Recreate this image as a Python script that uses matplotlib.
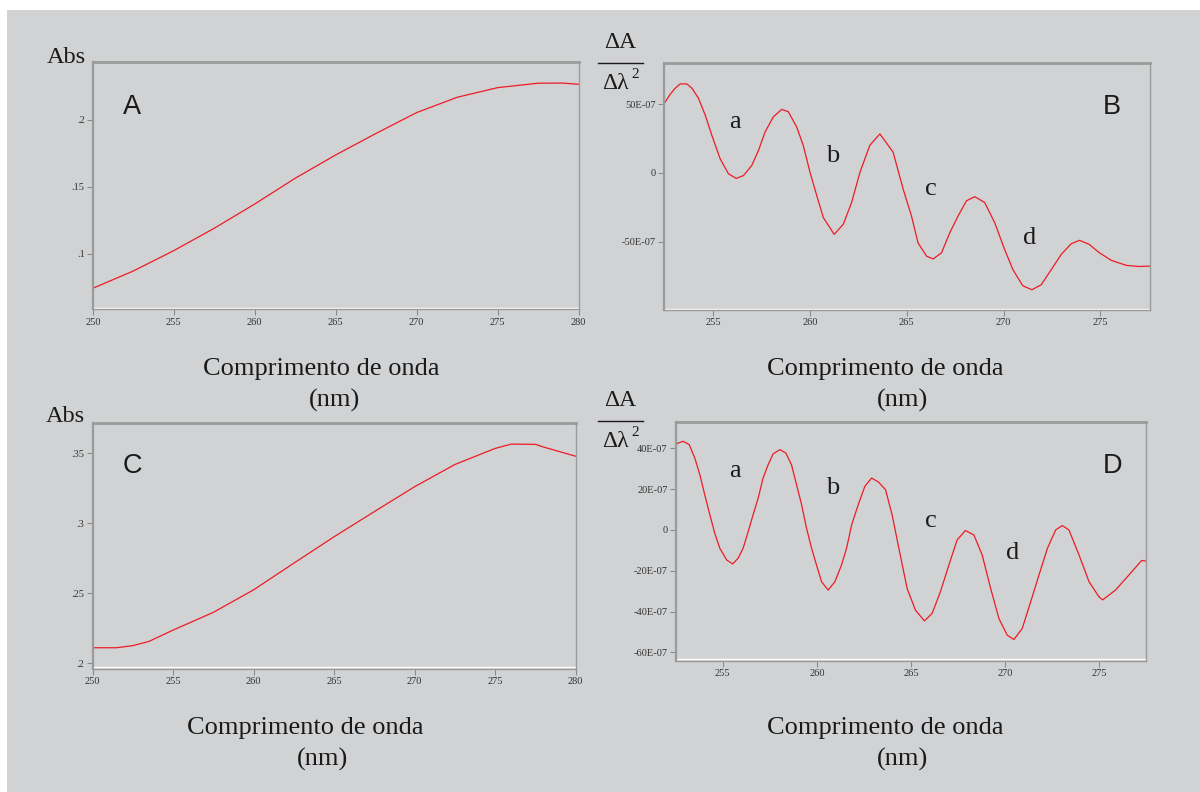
import matplotlib
matplotlib.use('Agg')
import matplotlib.pyplot as plt
from matplotlib.lines import Line2D
from matplotlib.patches import Rectangle

plt.rcParams['font.family'] = ['Liberation Serif', 'DejaVu Serif']

W, H = 1200, 792
BG = '#d1d2d4'
RED = '#ec1c24'
SPINE = '#9a9a9a'
SANS = ['Liberation Sans', 'DejaVu Sans']

# ---------------- data ----------------
wl_A = [250, 252.5, 255, 257.5, 260, 262.5, 265, 267.5, 270, 272.5, 275, 277.5, 279, 280]
abs_A = [0.0744, 0.0873, 0.1025, 0.1192, 0.1373, 0.1565, 0.1739, 0.1900, 0.2055, 0.2169,
         0.2241, 0.2274, 0.2275, 0.2266]

wl_C = [250, 251.5, 252.5, 253.5, 255, 257.5, 260, 262.5, 265, 266, 267.5, 270, 272.5, 275,
        276, 277.5, 278, 280]
abs_C = [0.211, 0.211, 0.2125, 0.2155, 0.2236, 0.2363, 0.2524, 0.2715, 0.2904, 0.2976, 0.3084,
         0.3262, 0.3421, 0.3536, 0.3567, 0.3565, 0.3546, 0.348]

wl_B = [252.48, 252.78, 253.04, 253.3, 253.64, 253.9, 254.24, 254.59, 254.93, 255.36, 255.79,
        256.19, 256.56, 256.99, 257.34, 257.68, 258.11, 258.54, 258.88, 259.31, 259.65, 260.0,
        260.35, 260.69, 261.25, 261.72, 262.15, 262.58, 263.09, 263.61, 264.29, 264.81, 265.24,
        265.58, 266.02, 266.36, 266.79, 267.22, 267.65, 268.08, 268.51, 269.02, 269.54, 270.05,
        270.48, 270.99, 271.46, 271.94, 272.46, 272.97, 273.49, 273.92, 274.43, 274.95, 275.57,
        276.34, 277.0, 277.55]
d2_B = [50.5, 57.1, 61.5, 64.6, 64.6, 61.5, 54.2, 41.9, 27.3, 10.2, -0.7, -4.0, -2.0, 5.3, 16.3,
        29.7, 40.7, 46.1, 44.4, 33.4, 20.0, 0.4, -16.6, -32.5, -44.7, -37.3, -21.5, 0.4, 20.0,
        28.3, 15.1, -11.7, -31.3, -50.8, -60.5, -62.5, -58.1, -43.5, -31.3, -20.3, -17.3, -21.5,
        -36.2, -55.6, -70.3, -82.0, -84.9, -81.3, -70.3, -59.3, -51.5, -49.0, -52.0, -58.1,
        -63.6, -67.2, -68.0, -67.7]

wl_D = [252.5, 252.89, 253.21, 253.51, 253.78, 254.04, 254.31, 254.57, 254.84, 255.2, 255.52,
        255.81, 256.08, 256.35, 256.61, 256.88, 257.14, 257.41, 257.67, 258.03, 258.35, 258.65,
        258.92, 259.19, 259.45, 259.72, 259.98, 260.25, 260.6, 260.96, 261.31, 261.58, 261.85,
        262.2, 262.55, 262.91, 263.28, 263.65, 264.0, 264.36, 264.8, 265.24, 265.72, 266.13,
        266.57, 267.02, 267.46, 267.9, 268.35, 268.79, 269.24, 269.68, 270.12, 270.48, 270.92,
        271.37, 271.81, 272.26, 272.7, 273.05, 273.4, 273.94, 274.47, 275.0, 275.2, 275.89,
        276.68, 277.27, 277.5]
d2_D = [42.1, 43.4, 41.8, 35.2, 27.0, 17.2, 7.4, -1.6, -9.0, -14.7, -16.7, -13.9, -9.0, -0.8,
        7.4, 15.6, 25.4, 31.9, 37.2, 39.3, 37.7, 31.9, 22.1, 12.3, 0.8, -9.0, -17.2, -25.4,
        -29.5, -25.4, -17.2, -9.0, 2.5, 12.3, 21.3, 25.4, 23.4, 19.7, 7.4, -9.0, -28.7, -39.3,
        -44.6, -40.9, -30.3, -17.2, -4.9, -0.3, -2.5, -12.3, -28.7, -43.4, -51.6, -53.7, -48.3,
        -35.2, -22.1, -9.0, 0.0, 2.1, 0.0, -12.3, -25.4, -32.8, -34.3, -29.4, -21.2, -15.0, -15.3]

x_ticks_abs = [250, 255, 260, 265, 270, 275, 280]
x_ticks_der = [255, 260, 265, 270, 275]
y_ticks_A = [0.1, 0.15, 0.2]
y_labels_A = ['.1', '.15', '.2']
y_ticks_C = [0.2, 0.25, 0.3, 0.35]
y_labels_C = ['.2', '.25', '.3', '.35']
y_ticks_B = [-50, 0, 50]
y_labels_B = ['-50E-07', '0', '50E-07']
y_ticks_D = [-60, -40, -20, 0, 20, 40]
y_labels_D = ['-60E-07', '-40E-07', '-20E-07', '0', '20E-07', '40E-07']

panel_letters = ['A', 'B', 'C', 'D']
band_letters = ['a', 'b', 'c', 'd']
xlabel_1 = 'Comprimento de onda'
xlabel_2 = '(nm)'

# ---------------- figure ----------------
fig = plt.figure(figsize=(12, 7.92), dpi=100)
fig.patch.set_facecolor('white')
fig.add_artist(Rectangle((7 / W, 0), 1 - 7 / W, 1 - 10 / H, transform=fig.transFigure,
                         facecolor=BG, edgecolor='none', zorder=-10))


def fx(x):
    return x / W


def fy(y):
    return 1 - y / H


def make_ax(l, t, r, b):
    ax = fig.add_axes([l / W, 1 - b / H, (r - l) / W, (b - t) / H])
    ax.set_facecolor(BG)
    ax.spines['top'].set_linewidth(2.0)
    ax.spines['left'].set_linewidth(1.6)
    ax.spines['right'].set_linewidth(1.0)
    ax.spines['bottom'].set_linewidth(1.0)
    for s in ax.spines.values():
        s.set_color(SPINE)
    ax.plot([0, 1], [0.006, 0.006], transform=ax.transAxes, color='white', lw=1.0, zorder=1)
    ax.tick_params(direction='out', length=4, width=0.8, color='#8a8a8a', labelsize=7.5,
                   labelcolor='#333333', pad=2)
    return ax


def txt(x, y, s, size, family=None, ha='left', va='baseline', color='#1a1a1a'):
    kw = {}
    if family is not None:
        kw['family'] = family
    fig.text(fx(x), fy(y), s, fontsize=size, ha=ha, va=va, color=color, **kw)


LINE_KW = dict(color=RED, lw=0.9, solid_joinstyle='round', solid_capstyle='round')

# Panel A
axA = make_ax(92.9, 62.3, 578.6, 309.3)
axA.plot(wl_A, abs_A, **LINE_KW)
axA.set_xlim(250, 280)
axA.set_ylim(0.0587, 0.243)
axA.set_xticks(x_ticks_abs)
axA.set_xticklabels([str(v) for v in x_ticks_abs])
axA.set_yticks(y_ticks_A)
axA.set_yticklabels(y_labels_A)

# Panel B
axB = make_ax(664, 62.7, 1150.4, 310)
axB.plot(wl_B, d2_B, **LINE_KW)
axB.set_xlim(252.46, 277.58)
axB.set_ylim(-99.6, 80)
axB.set_xticks(x_ticks_der)
axB.set_xticklabels([str(v) for v in x_ticks_der])
axB.set_yticks(y_ticks_B)
axB.set_yticklabels(y_labels_B)

# Panel C
axC = make_ax(92.5, 422.7, 575.7, 668.7)
axC.plot(wl_C, abs_C, **LINE_KW)
axC.set_xlim(250, 280)
axC.set_ylim(0.196, 0.372)
axC.set_xticks(x_ticks_abs)
axC.set_xticklabels([str(v) for v in x_ticks_abs])
axC.set_yticks(y_ticks_C)
axC.set_yticklabels(y_labels_C)

# Panel D
axD = make_ax(675.8, 421.7, 1146, 660.7)
axD.plot(wl_D, d2_D, **LINE_KW)
axD.set_xlim(252.5, 277.5)
axD.set_ylim(-64.1, 53)
axD.set_xticks(x_ticks_der)
axD.set_xticklabels([str(v) for v in x_ticks_der])
axD.set_yticks(y_ticks_D)
axD.set_yticklabels(y_labels_D)

# Y labels
txt(47, 63, 'Abs', 17.5)
txt(45.4, 421.7, 'Abs', 17.5)
for top in (0, 358):
    txt(604, 48 + top, '\u0394A', 17)
    fig.add_artist(Line2D([fx(598), fx(642.5)], [fy(63.3 + top), fy(63.3 + top)],
                          transform=fig.transFigure, color='#1a1a1a', lw=1.0))
    txt(602, 89 + top, '\u0394\u03bb', 17)
    txt(631, 78 + top, '2', 11)

# X labels
for cx_top, cx_bot, yb in ((321.5, 335, 375), (885.5, 902, 375), (305.5, 322, 734), (885.5, 902, 734)):
    txt(cx_top, yb, xlabel_1, 19, ha='center')
    txt(cx_bot, yb + 32, xlabel_2, 19, ha='center')

# Panel letters
txt(122.9, 114, panel_letters[0], 19.5, family=SANS)
txt(1103, 114, panel_letters[1], 19.5, family=SANS)
txt(122.9, 473, panel_letters[2], 19.5, family=SANS)
txt(1103, 472.7, panel_letters[3], 19.5, family=SANS)

# Band letters
posB = [(735.4, 128.3), (832.3, 161.7), (931, 195), (1029.5, 244)]
posD = [(735, 477.3), (832.7, 494), (930.7, 526.7), (1012.4, 559)]
for s, (x, y) in zip(band_letters, posB):
    txt(x, y, s, 19, ha='center')
for s, (x, y) in zip(band_letters, posD):
    txt(x, y, s, 19, ha='center')

fig.savefig('out.png', dpi=100, facecolor=fig.get_facecolor())
